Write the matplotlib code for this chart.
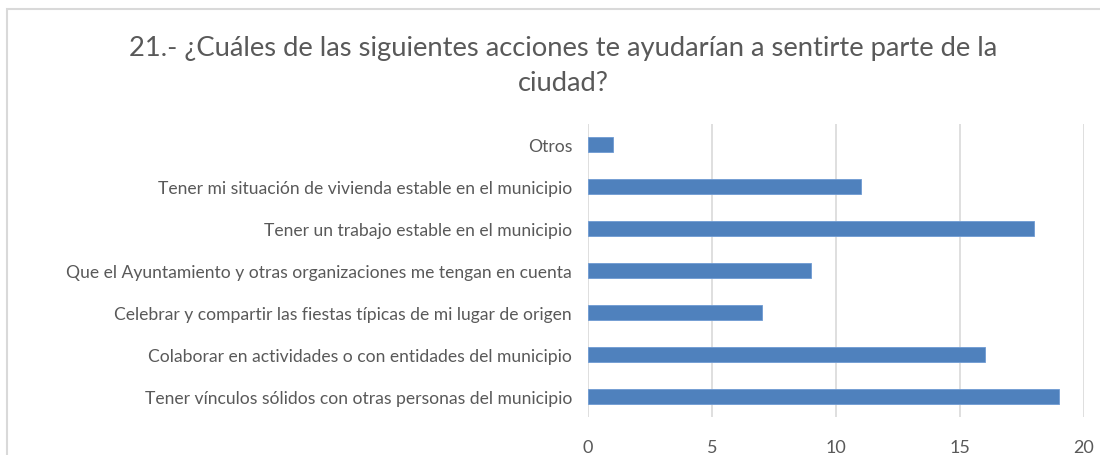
import matplotlib.pyplot as plt
from matplotlib.patches import Rectangle

# Survey answers, listed top to bottom as shown on the chart
categories = [
    "Otros",
    "Tener mi situación de vivienda estable en el municipio",
    "Tener un trabajo estable en el municipio",
    "Que el Ayuntamiento y otras organizaciones me tengan en cuenta",
    "Celebrar y compartir las fiestas típicas de mi lugar de origen",
    "Colaborar en actividades o con entidades del municipio",
    "Tener vínculos sólidos con otras personas del municipio",
]
counts = [1, 11, 18, 9, 7, 16, 19]
x_ticks = [0, 5, 10, 15, 20]

title = "21.- ¿Cuáles de las siguientes acciones te ayudarían a sentirte parte de la\nciudad?"

plt.rcParams["font.family"] = ["Lato", "DejaVu Sans"]

text_color = "#595959"
grid_color = "#d9d9d9"
bar_color = "#4f81bd"

fig = plt.figure(figsize=(11, 4.56), dpi=100)

# Chart area frame (runs off the right and bottom edges)
fig.patches.append(
    Rectangle((7 / 1100, -0.1), 1.2, 1.1 - 10 / 456,
              transform=fig.transFigure, fill=False,
              edgecolor="#d9d9d9", linewidth=1.5)
)

ax = fig.add_axes([588 / 1100, 1 - 418 / 456, (1084 - 588) / 1100, 293 / 456])

y = list(range(len(categories)))
ax.barh(y, counts, height=0.36, color=bar_color, edgecolor="#6f9bd3",
        linewidth=0.6, zorder=3)

ax.set_ylim(len(categories) - 0.5, -0.5)
ax.set_xlim(0, 20)
ax.set_xticks(x_ticks)
ax.set_yticks(y)
ax.set_yticklabels(categories)

ax.grid(axis="x", color=grid_color, linewidth=1.2, zorder=0)
for side in ax.spines.values():
    side.set_visible(False)

ax.tick_params(axis="both", length=0, colors=text_color)
ax.tick_params(axis="y", pad=11.5, labelsize=12.6)
ax.tick_params(axis="x", pad=16, labelsize=13)

fig.text(563 / 1100, 1 - 66 / 456, title, ha="center", va="center",
         fontsize=19.7, color=text_color, linespacing=1.5)

fig.savefig("out.png", dpi=100)
